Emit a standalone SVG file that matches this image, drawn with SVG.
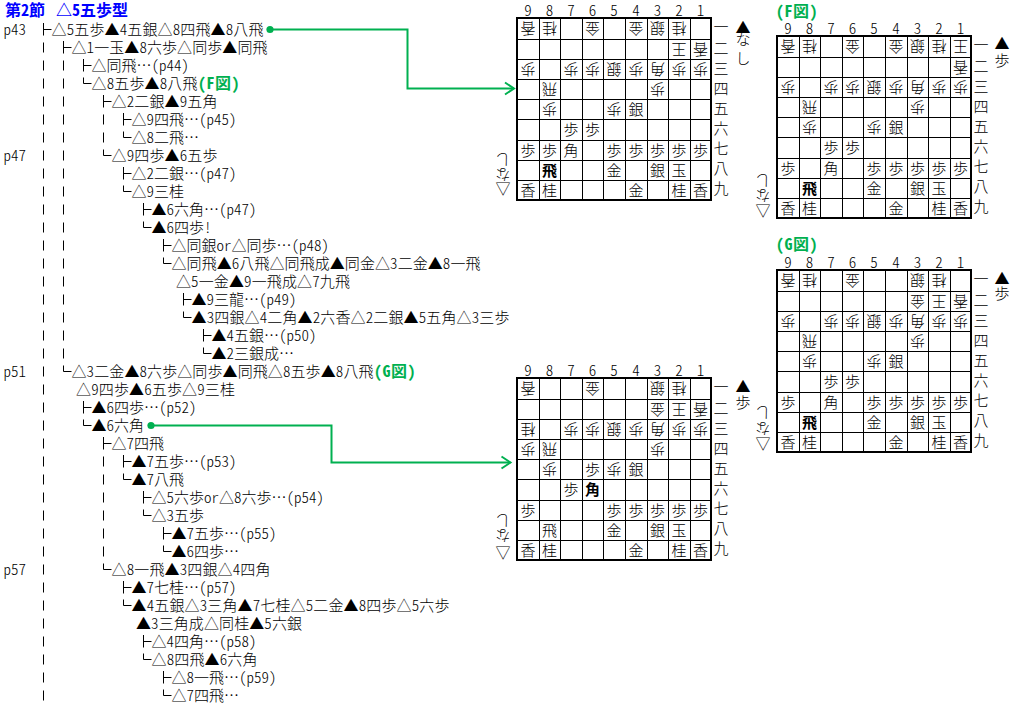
<svg xmlns="http://www.w3.org/2000/svg" width="1018" height="703" viewBox="0 0 1018 703">
<style>
text{font-family:"Noto Sans CJK JP","Noto Sans CJK SC",sans-serif;font-size:15px;font-weight:300;fill:#000;font-feature-settings:"hwid"}
.title{fill:#00f;font-weight:700;font-size:16px}
.fig{fill:#00b050;font-weight:700;font-size:16px;letter-spacing:.5px}
.p,.c{text-anchor:middle}
.b{font-weight:700}
.tree{fill:none;stroke:#000;stroke-width:1}
.bar{fill:none;stroke:#000;stroke-width:1;stroke-dasharray:10 8}
.link{fill:none;stroke:#00b050;stroke-width:2;marker-start:url(#dot);marker-end:url(#arrow)}
.thick{fill:none;stroke:#000;stroke-width:2}
.thin{fill:none;stroke:#000;stroke-width:1}
</style>
<defs>
<marker id="dot" markerUnits="userSpaceOnUse" markerWidth="10" markerHeight="10" refX="5" refY="5" overflow="visible"><circle cx="5" cy="5" r="3.6" fill="#00b050"/></marker>
<marker id="arrow" markerUnits="userSpaceOnUse" markerWidth="14" markerHeight="16" refX="12" refY="8" overflow="visible" orient="auto"><path d="M3 2L12 8L3 14" fill="none" stroke="#00b050" stroke-width="2"/></marker>
<path id="tee" class="tree" d="M0-6.5V6M0 0H8"/>
<path id="ell" class="tree" d="M0-6V0H8"/>
<g id="grid"><rect class="thick" width="194" height="182"/><path class="thin" d="M22.5 0V182M43.5 0V182M65.5 0V182M86.5 0V182M108.5 0V182M130.5 0V182M151.5 0V182M173.5 0V182M0 21.5H194M0 41.5H194M0 61.5H194M0 81.5H194M0 101.5H194M0 122.5H194M0 142.5H194M0 162.5H194"/></g>
</defs>

<g id="connectors">
<path class="bar" d="M43.5 42.5V703"/>
<path class="bar" d="M63.5 60.5V358.5"/>
<path class="bar" d="M103.5 114.5V142.5"/>
<path class="bar" d="M103.5 456.5V556.5"/>
<use href="#tee" x="43.5" y="29.5"/>
<use href="#tee" x="63.5" y="47.5"/>
<use href="#tee" x="83.5" y="65.5"/>
<use href="#ell" x="83.5" y="83.5"/>
<use href="#tee" x="103.5" y="101.5"/>
<use href="#tee" x="123.5" y="119.5"/>
<use href="#ell" x="123.5" y="137.5"/>
<use href="#ell" x="103.5" y="155.5"/>
<use href="#tee" x="123.5" y="173.5"/>
<use href="#ell" x="123.5" y="191.5"/>
<use href="#tee" x="143.5" y="209.5"/>
<use href="#ell" x="143.5" y="227.5"/>
<use href="#tee" x="163.5" y="245.5"/>
<use href="#ell" x="163.5" y="263.5"/>
<use href="#tee" x="183.5" y="299.5"/>
<use href="#ell" x="183.5" y="317.5"/>
<use href="#tee" x="203.5" y="335.5"/>
<use href="#ell" x="203.5" y="353.5"/>
<use href="#ell" x="63.5" y="371.5"/>
<use href="#tee" x="83.5" y="407.5"/>
<use href="#ell" x="83.5" y="425.5"/>
<use href="#tee" x="103.5" y="443.5"/>
<use href="#tee" x="123.5" y="461.5"/>
<use href="#ell" x="123.5" y="479.5"/>
<use href="#tee" x="143.5" y="497.5"/>
<use href="#ell" x="143.5" y="515.5"/>
<use href="#tee" x="163.5" y="533.5"/>
<use href="#ell" x="163.5" y="551.5"/>
<use href="#ell" x="103.5" y="569.5"/>
<use href="#tee" x="123.5" y="587.5"/>
<use href="#ell" x="123.5" y="605.5"/>
<use href="#tee" x="143.5" y="641.5"/>
<use href="#ell" x="143.5" y="659.5"/>
<use href="#tee" x="163.5" y="677.5"/>
<use href="#ell" x="163.5" y="695.5"/>
<path class="link" d="M270 29.5H407.5V88.5H514"/>
<path class="link" d="M151 425.5H331.5V462.5H510.5"/>
</g>

<g id="heading"><text class="title" x="5" y="16">第2節<tspan x="56">△5五歩型</tspan></text></g>
<g id="pages">
<text x="3.5" y="35">p43</text><text x="3.5" y="161">p47</text><text x="3.5" y="377">p51</text><text x="3.5" y="575">p57</text>
</g>

<g id="n00"><text x="51.5" y="35" textLength="212">△5五歩▲4五銀△8四飛▲8八飛</text></g>
<g id="n01"><text x="71.5" y="53" textLength="196">△1一玉▲8六歩△同歩▲同飛</text></g>
<g id="n02"><text x="91.5" y="71">△同飛…（p44）</text></g>
<g id="n03"><text x="91.5" y="89" textLength="106">△8五歩▲8八飛</text><text class="fig" x="198" y="89">（F図）</text></g>
<g id="n04"><text x="111.5" y="107" textLength="106">△2二銀▲9五角</text></g>
<g id="n05"><text x="131.5" y="125">△9四飛…（p45）</text></g>
<g id="n06"><text x="131.5" y="143">△8二飛…</text></g>
<g id="n07"><text x="111.5" y="161" textLength="106">△9四歩▲6五歩</text></g>
<g id="n08"><text x="131.5" y="179">△2二銀…（p47）</text></g>
<g id="n09"><text x="131.5" y="197">△9三桂</text></g>
<g id="n10"><text x="151.5" y="215">▲6六角…（p47）</text></g>
<g id="n11"><text x="151.5" y="233">▲6四歩!</text></g>
<g id="n12"><text x="171.5" y="251">△同銀or△同歩…（p48）</text></g>
<g id="n13"><text x="171.5" y="269" textLength="309">△同飛▲6八飛△同飛成▲同金△3二金▲8一飛</text></g>
<g id="n14"><text x="176" y="287" textLength="174">△5一金▲9一飛成△7九飛</text></g>
<g id="n15"><text x="191.5" y="305">▲9三龍…（p49）</text></g>
<g id="n16"><text x="191.5" y="323" textLength="318">▲3四銀△4二角▲2六香△2二銀▲5五角△3三歩</text></g>
<g id="n17"><text x="211.5" y="341">▲4五銀…（p50）</text></g>
<g id="n18"><text x="211.5" y="359">▲2三銀成…</text></g>
<g id="n19"><text x="71.5" y="377" textLength="302">△3二金▲8六歩△同歩▲同飛△8五歩▲8八飛</text><text class="fig" x="374" y="377">（G図）</text></g>
<g id="n20"><text x="76" y="395" textLength="159">△9四歩▲6五歩△9三桂</text></g>
<g id="n21"><text x="91.5" y="413">▲6四歩…（p52）</text></g>
<g id="n22"><text x="91.5" y="431">▲6六角</text></g>
<g id="n23"><text x="111.5" y="449">△7四飛</text></g>
<g id="n24"><text x="131.5" y="467">▲7五歩…（p53）</text></g>
<g id="n25"><text x="131.5" y="485">▲7八飛</text></g>
<g id="n26"><text x="151.5" y="503">△5六歩or△8六歩…（p54）</text></g>
<g id="n27"><text x="151.5" y="521">△3五歩</text></g>
<g id="n28"><text x="171.5" y="539">▲7五歩…（p55）</text></g>
<g id="n29"><text x="171.5" y="557">▲6四歩…</text></g>
<g id="n30"><text x="111.5" y="575" textLength="159">△8一飛▲3四銀△4四角</text></g>
<g id="n31"><text x="131.5" y="593">▲7七桂…（p57）</text></g>
<g id="n32"><text x="131.5" y="611" textLength="318">▲4五銀△3三角▲7七桂△5二金▲8四歩△5六歩</text></g>
<g id="n33"><text x="136" y="629" textLength="166">▲3三角成△同桂▲5六銀</text></g>
<g id="n34"><text x="151.5" y="647">△4四角…（p58）</text></g>
<g id="n35"><text x="151.5" y="665" textLength="106">△8四飛▲6六角</text></g>
<g id="n36"><text x="171.5" y="683">△8一飛…（p59）</text></g>
<g id="n37"><text x="171.5" y="701">△7四飛…</text></g>

<g id="board-main" transform="translate(517 18)">
<use href="#grid"/>
<text class="c" x="11" y="-2">9</text><text class="c" x="32.5" y="-2">8</text><text class="c" x="54" y="-2">7</text><text class="c" x="75.5" y="-2">6</text><text class="c" x="97" y="-2">5</text><text class="c" x="119" y="-2">4</text><text class="c" x="140.5" y="-2">3</text><text class="c" x="162" y="-2">2</text><text class="c" x="183.5" y="-2">1</text>
<text class="c" x="204" y="14">一</text><text class="c" x="204" y="36">二</text><text class="c" x="204" y="55.5">三</text><text class="c" x="204" y="75.5">四</text><text class="c" x="204" y="95.5">五</text><text class="c" x="204" y="115.5">六</text><text class="c" x="204" y="136">七</text><text class="c" x="204" y="155.5">八</text><text class="c" x="204" y="175.5">九</text>
<text class="c" x="226" y="14.5">▲</text><text class="c" x="226" y="26.5">な</text><text class="c" x="226" y="45.5">し</text>
<text class="c" transform="translate(-14 170) rotate(180)" y="5.5">△</text><text class="c" transform="translate(-14 156) rotate(180)" y="5.5">な</text><text class="c" transform="translate(-14 141) rotate(180)" y="5.5">し</text>
<text class="p" transform="translate(11 10.5) rotate(180)" y="5.5">香</text><text class="p" transform="translate(32.5 10.5) rotate(180)" y="5.5">桂</text><text class="p" transform="translate(75.5 10.5) rotate(180)" y="5.5">金</text><text class="p" transform="translate(119 10.5) rotate(180)" y="5.5">金</text><text class="p" transform="translate(140.5 10.5) rotate(180)" y="5.5">銀</text><text class="p" transform="translate(162 10.5) rotate(180)" y="5.5">桂</text>
<text class="p" transform="translate(162 31) rotate(180)" y="5.5">王</text><text class="p" transform="translate(183.5 31) rotate(180)" y="5.5">香</text>
<text class="p" transform="translate(11 51) rotate(180)" y="5.5">歩</text><text class="p" transform="translate(54 51) rotate(180)" y="5.5">歩</text><text class="p" transform="translate(75.5 51) rotate(180)" y="5.5">歩</text><text class="p" transform="translate(97 51) rotate(180)" y="5.5">銀</text><text class="p" transform="translate(119 51) rotate(180)" y="5.5">歩</text><text class="p" transform="translate(140.5 51) rotate(180)" y="5.5">角</text><text class="p" transform="translate(162 51) rotate(180)" y="5.5">歩</text><text class="p" transform="translate(183.5 51) rotate(180)" y="5.5">歩</text>
<text class="p" transform="translate(32.5 71) rotate(180)" y="5.5">飛</text><text class="p" transform="translate(140.5 71) rotate(180)" y="5.5">歩</text>
<text class="p" transform="translate(32.5 91) rotate(180)" y="5.5">歩</text><text class="p" transform="translate(97 91) rotate(180)" y="5.5">歩</text><text class="p" x="119" y="96.5">銀</text>
<text class="p" x="54" y="117">歩</text><text class="p" x="75.5" y="117">歩</text>
<text class="p" x="11" y="137.5">歩</text><text class="p" x="32.5" y="137.5">歩</text><text class="p" x="54" y="137.5">角</text><text class="p" x="97" y="137.5">歩</text><text class="p" x="119" y="137.5">歩</text><text class="p" x="140.5" y="137.5">歩</text><text class="p" x="162" y="137.5">歩</text><text class="p" x="183.5" y="137.5">歩</text>
<text class="p b" x="32.5" y="157.5">飛</text><text class="p" x="97" y="157.5">金</text><text class="p" x="140.5" y="157.5">銀</text><text class="p" x="162" y="157.5">玉</text>
<text class="p" x="11" y="177.5">香</text><text class="p" x="32.5" y="177.5">桂</text><text class="p" x="119" y="177.5">金</text><text class="p" x="162" y="177.5">桂</text><text class="p" x="183.5" y="177.5">香</text>
</g>

<g id="board-f" transform="translate(777 36)">
<text class="fig" x="-1" y="-19">（F図）</text>
<use href="#grid"/>
<text class="c" x="11" y="-2">9</text><text class="c" x="32.5" y="-2">8</text><text class="c" x="54" y="-2">7</text><text class="c" x="75.5" y="-2">6</text><text class="c" x="97" y="-2">5</text><text class="c" x="119" y="-2">4</text><text class="c" x="140.5" y="-2">3</text><text class="c" x="162" y="-2">2</text><text class="c" x="183.5" y="-2">1</text>
<text class="c" x="204" y="14">一</text><text class="c" x="204" y="36">二</text><text class="c" x="204" y="55.5">三</text><text class="c" x="204" y="75.5">四</text><text class="c" x="204" y="95.5">五</text><text class="c" x="204" y="115.5">六</text><text class="c" x="204" y="136">七</text><text class="c" x="204" y="155.5">八</text><text class="c" x="204" y="175.5">九</text>
<text class="c" x="225" y="12.5">▲</text><text class="c" x="225" y="29.5">歩</text>
<text class="c" transform="translate(-14 174) rotate(180)" y="5.5">△</text><text class="c" transform="translate(-14 159) rotate(180)" y="5.5">な</text><text class="c" transform="translate(-14 144) rotate(180)" y="5.5">し</text>
<text class="p" transform="translate(11 10.5) rotate(180)" y="5.5">香</text><text class="p" transform="translate(32.5 10.5) rotate(180)" y="5.5">桂</text><text class="p" transform="translate(75.5 10.5) rotate(180)" y="5.5">金</text><text class="p" transform="translate(119 10.5) rotate(180)" y="5.5">金</text><text class="p" transform="translate(140.5 10.5) rotate(180)" y="5.5">銀</text><text class="p" transform="translate(162 10.5) rotate(180)" y="5.5">桂</text><text class="p" transform="translate(183.5 10.5) rotate(180)" y="5.5">王</text>
<text class="p" transform="translate(183.5 31) rotate(180)" y="5.5">香</text>
<text class="p" transform="translate(11 51) rotate(180)" y="5.5">歩</text><text class="p" transform="translate(54 51) rotate(180)" y="5.5">歩</text><text class="p" transform="translate(75.5 51) rotate(180)" y="5.5">歩</text><text class="p" transform="translate(97 51) rotate(180)" y="5.5">銀</text><text class="p" transform="translate(119 51) rotate(180)" y="5.5">歩</text><text class="p" transform="translate(140.5 51) rotate(180)" y="5.5">角</text><text class="p" transform="translate(162 51) rotate(180)" y="5.5">歩</text><text class="p" transform="translate(183.5 51) rotate(180)" y="5.5">歩</text>
<text class="p" transform="translate(32.5 71) rotate(180)" y="5.5">飛</text><text class="p" transform="translate(140.5 71) rotate(180)" y="5.5">歩</text>
<text class="p" transform="translate(32.5 91) rotate(180)" y="5.5">歩</text><text class="p" transform="translate(97 91) rotate(180)" y="5.5">歩</text><text class="p" x="119" y="96.5">銀</text>
<text class="p" x="54" y="117">歩</text><text class="p" x="75.5" y="117">歩</text>
<text class="p" x="11" y="137.5">歩</text><text class="p" x="54" y="137.5">角</text><text class="p" x="97" y="137.5">歩</text><text class="p" x="119" y="137.5">歩</text><text class="p" x="140.5" y="137.5">歩</text><text class="p" x="162" y="137.5">歩</text><text class="p" x="183.5" y="137.5">歩</text>
<text class="p b" x="32.5" y="157.5">飛</text><text class="p" x="97" y="157.5">金</text><text class="p" x="140.5" y="157.5">銀</text><text class="p" x="162" y="157.5">玉</text>
<text class="p" x="11" y="177.5">香</text><text class="p" x="32.5" y="177.5">桂</text><text class="p" x="119" y="177.5">金</text><text class="p" x="162" y="177.5">桂</text><text class="p" x="183.5" y="177.5">香</text>
</g>

<g id="board-g" transform="translate(777 270)">
<text class="fig" x="-1" y="-20">（G図）</text>
<use href="#grid"/>
<text class="c" x="11" y="-2">9</text><text class="c" x="32.5" y="-2">8</text><text class="c" x="54" y="-2">7</text><text class="c" x="75.5" y="-2">6</text><text class="c" x="97" y="-2">5</text><text class="c" x="119" y="-2">4</text><text class="c" x="140.5" y="-2">3</text><text class="c" x="162" y="-2">2</text><text class="c" x="183.5" y="-2">1</text>
<text class="c" x="204" y="14">一</text><text class="c" x="204" y="36">二</text><text class="c" x="204" y="55.5">三</text><text class="c" x="204" y="75.5">四</text><text class="c" x="204" y="95.5">五</text><text class="c" x="204" y="115.5">六</text><text class="c" x="204" y="136">七</text><text class="c" x="204" y="155.5">八</text><text class="c" x="204" y="175.5">九</text>
<text class="c" x="225" y="13.5">▲</text><text class="c" x="225" y="28.5">歩</text>
<text class="c" transform="translate(-14 173) rotate(180)" y="5.5">△</text><text class="c" transform="translate(-14 158) rotate(180)" y="5.5">な</text><text class="c" transform="translate(-14 142) rotate(180)" y="5.5">し</text>
<text class="p" transform="translate(11 10.5) rotate(180)" y="5.5">香</text><text class="p" transform="translate(32.5 10.5) rotate(180)" y="5.5">桂</text><text class="p" transform="translate(75.5 10.5) rotate(180)" y="5.5">金</text><text class="p" transform="translate(140.5 10.5) rotate(180)" y="5.5">銀</text><text class="p" transform="translate(162 10.5) rotate(180)" y="5.5">桂</text>
<text class="p" transform="translate(140.5 31) rotate(180)" y="5.5">金</text><text class="p" transform="translate(162 31) rotate(180)" y="5.5">王</text><text class="p" transform="translate(183.5 31) rotate(180)" y="5.5">香</text>
<text class="p" transform="translate(11 51) rotate(180)" y="5.5">歩</text><text class="p" transform="translate(54 51) rotate(180)" y="5.5">歩</text><text class="p" transform="translate(75.5 51) rotate(180)" y="5.5">歩</text><text class="p" transform="translate(97 51) rotate(180)" y="5.5">銀</text><text class="p" transform="translate(119 51) rotate(180)" y="5.5">歩</text><text class="p" transform="translate(140.5 51) rotate(180)" y="5.5">角</text><text class="p" transform="translate(162 51) rotate(180)" y="5.5">歩</text><text class="p" transform="translate(183.5 51) rotate(180)" y="5.5">歩</text>
<text class="p" transform="translate(32.5 71) rotate(180)" y="5.5">飛</text><text class="p" transform="translate(140.5 71) rotate(180)" y="5.5">歩</text>
<text class="p" transform="translate(32.5 91) rotate(180)" y="5.5">歩</text><text class="p" transform="translate(97 91) rotate(180)" y="5.5">歩</text><text class="p" x="119" y="96.5">銀</text>
<text class="p" x="54" y="117">歩</text><text class="p" x="75.5" y="117">歩</text>
<text class="p" x="11" y="137.5">歩</text><text class="p" x="54" y="137.5">角</text><text class="p" x="97" y="137.5">歩</text><text class="p" x="119" y="137.5">歩</text><text class="p" x="140.5" y="137.5">歩</text><text class="p" x="162" y="137.5">歩</text><text class="p" x="183.5" y="137.5">歩</text>
<text class="p b" x="32.5" y="157.5">飛</text><text class="p" x="97" y="157.5">金</text><text class="p" x="140.5" y="157.5">銀</text><text class="p" x="162" y="157.5">玉</text>
<text class="p" x="11" y="177.5">香</text><text class="p" x="32.5" y="177.5">桂</text><text class="p" x="119" y="177.5">金</text><text class="p" x="162" y="177.5">桂</text><text class="p" x="183.5" y="177.5">香</text>
</g>

<g id="board-h" transform="translate(517 378)">
<use href="#grid"/>
<text class="c" x="11" y="-2">9</text><text class="c" x="32.5" y="-2">8</text><text class="c" x="54" y="-2">7</text><text class="c" x="75.5" y="-2">6</text><text class="c" x="97" y="-2">5</text><text class="c" x="119" y="-2">4</text><text class="c" x="140.5" y="-2">3</text><text class="c" x="162" y="-2">2</text><text class="c" x="183.5" y="-2">1</text>
<text class="c" x="204" y="14">一</text><text class="c" x="204" y="36">二</text><text class="c" x="204" y="55.5">三</text><text class="c" x="204" y="75.5">四</text><text class="c" x="204" y="95.5">五</text><text class="c" x="204" y="115.5">六</text><text class="c" x="204" y="136">七</text><text class="c" x="204" y="155.5">八</text><text class="c" x="204" y="175.5">九</text>
<text class="c" x="226" y="13.5">▲</text><text class="c" x="226" y="29.5">歩</text>
<text class="c" transform="translate(-14 174) rotate(180)" y="5.5">△</text><text class="c" transform="translate(-14 157) rotate(180)" y="5.5">な</text><text class="c" transform="translate(-14 142) rotate(180)" y="5.5">し</text>
<text class="p" transform="translate(11 10.5) rotate(180)" y="5.5">香</text><text class="p" transform="translate(75.5 10.5) rotate(180)" y="5.5">金</text><text class="p" transform="translate(140.5 10.5) rotate(180)" y="5.5">銀</text><text class="p" transform="translate(162 10.5) rotate(180)" y="5.5">桂</text>
<text class="p" transform="translate(140.5 31) rotate(180)" y="5.5">金</text><text class="p" transform="translate(162 31) rotate(180)" y="5.5">王</text><text class="p" transform="translate(183.5 31) rotate(180)" y="5.5">香</text>
<text class="p" transform="translate(11 51) rotate(180)" y="5.5">桂</text><text class="p" transform="translate(54 51) rotate(180)" y="5.5">歩</text><text class="p" transform="translate(75.5 51) rotate(180)" y="5.5">歩</text><text class="p" transform="translate(97 51) rotate(180)" y="5.5">銀</text><text class="p" transform="translate(119 51) rotate(180)" y="5.5">歩</text><text class="p" transform="translate(140.5 51) rotate(180)" y="5.5">角</text><text class="p" transform="translate(162 51) rotate(180)" y="5.5">歩</text><text class="p" transform="translate(183.5 51) rotate(180)" y="5.5">歩</text>
<text class="p" transform="translate(11 71) rotate(180)" y="5.5">歩</text><text class="p" transform="translate(32.5 71) rotate(180)" y="5.5">飛</text><text class="p" transform="translate(140.5 71) rotate(180)" y="5.5">歩</text>
<text class="p" transform="translate(32.5 91) rotate(180)" y="5.5">歩</text><text class="p" x="75.5" y="96.5">歩</text><text class="p" transform="translate(97 91) rotate(180)" y="5.5">歩</text><text class="p" x="119" y="96.5">銀</text>
<text class="p" x="54" y="117">歩</text><text class="p b" x="75.5" y="117">角</text>
<text class="p" x="11" y="137.5">歩</text><text class="p" x="97" y="137.5">歩</text><text class="p" x="119" y="137.5">歩</text><text class="p" x="140.5" y="137.5">歩</text><text class="p" x="162" y="137.5">歩</text><text class="p" x="183.5" y="137.5">歩</text>
<text class="p" x="32.5" y="157.5">飛</text><text class="p" x="97" y="157.5">金</text><text class="p" x="140.5" y="157.5">銀</text><text class="p" x="162" y="157.5">玉</text>
<text class="p" x="11" y="177.5">香</text><text class="p" x="32.5" y="177.5">桂</text><text class="p" x="119" y="177.5">金</text><text class="p" x="162" y="177.5">桂</text><text class="p" x="183.5" y="177.5">香</text>
</g>
</svg>
